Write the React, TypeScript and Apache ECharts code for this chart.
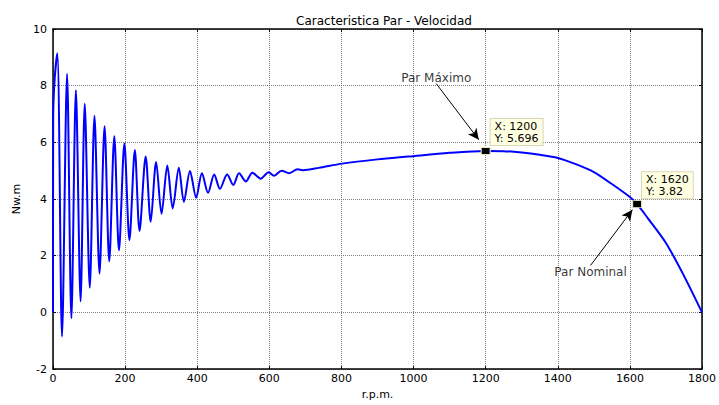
import React, { useEffect, useRef } from "react";
import * as echarts from "echarts";

const rpm = [0, 0.5, 4.6, 12, 25, 39, 51, 63.5, 76.5, 88, 102, 115, 129, 143, 156, 170, 183, 198, 212, 227, 240, 257, 271, 286, 301, 317, 332, 349, 363, 380, 397, 413, 430, 447, 463, 483, 500, 516, 535, 553, 576, 598, 613, 634, 655, 678, 693, 737, 802, 900, 986, 1100, 1200, 1250, 1300, 1350, 1400, 1450, 1500, 1550, 1600, 1620, 1650, 1700, 1750, 1800];
const torque = [0, 6.9, 8.24, 9.14, -0.85, 8.42, -0.21, 7.84, 0.39, 7.36, 0.87, 6.94, 1.37, 6.57, 1.8, 6.22, 2.19, 5.96, 2.55, 5.73, 2.87, 5.5, 3.2, 5.31, 3.48, 5.18, 3.67, 5.1, 3.9, 4.99, 4.05, 4.91, 4.22, 4.87, 4.36, 4.87, 4.5, 4.91, 4.62, 4.93, 4.72, 4.95, 4.82, 5.0, 4.91, 5.05, 5.02, 5.1, 5.25, 5.4, 5.5, 5.63, 5.696, 5.69, 5.64, 5.56, 5.45, 5.23, 4.95, 4.53, 4.07, 3.82, 3.32, 2.45, 1.29, 0];

const markerX = [1200, 1620];
const markerY = [5.696, 3.82];

const noteLabels = ["Par Máximo", "Par Nominal"];
const noteX = [1063, 1491];
const noteY = [8.28, 1.42];
const arrowFromX = [1063, 1491];
const arrowFromY = [8.07, 1.66];
const arrowToX = [1181, 1607];
const arrowToY = [6.09, 3.62];

const FONT = "DejaVu Sans";

export default function App() {
  const ref = useRef<HTMLDivElement>(null);
  useEffect(() => {
    document.body.style.margin = "0";
    document.body.style.overflow = "hidden";
    if (!ref.current) return;
    const chart = echarts.init(ref.current, undefined, { renderer: "svg" });
    const axisCommon = {
      type: "value" as const,
      axisLine: { show: true, onZero: false, lineStyle: { color: "#000", width: 1.5 } },
      axisTick: { show: true, inside: true, length: 3, lineStyle: { color: "#000" } },
    };
    const labelStyle = {
      color: "#000",
      fontFamily: FONT,
      fontSize: 11,
      formatter: (v: number) => String(v),
    };
    chart.setOption({
      animation: false,
      backgroundColor: "#fff",
      title: {
        text: "Caracteristica Par - Velocidad",
        left: 379,
        top: 10,
        textAlign: "center",
        textStyle: { fontFamily: FONT, fontSize: 12, fontWeight: "normal", color: "#000" },
      },
      grid: { left: 53, right: 14, top: 29, bottom: 26, show: false },
      xAxis: [
        {
          ...axisCommon,
          position: "bottom",
          min: 0,
          max: 1800,
          interval: 200,
          name: "r.p.m.",
          nameLocation: "middle",
          nameGap: 16,
          nameTextStyle: { fontFamily: FONT, fontSize: 11, color: "#000" },
          axisLabel: { ...labelStyle, margin: 4 },
          splitLine: { show: true, lineStyle: { color: "#808080", type: [1, 1], width: 1 } },
        },
        {
          ...axisCommon,
          position: "top",
          min: 0,
          max: 1800,
          interval: 200,
          axisLabel: { show: false },
          splitLine: { show: false },
        },
      ],
      yAxis: [
        {
          ...axisCommon,
          position: "left",
          min: -2,
          max: 10,
          interval: 2,
          name: "Nw.m",
          nameLocation: "middle",
          nameGap: 27,
          nameTextStyle: { fontFamily: FONT, fontSize: 11, color: "#000" },
          axisLabel: { ...labelStyle, margin: 6 },
          splitLine: { show: true, lineStyle: { color: "#808080", type: [1, 1], width: 1 } },
        },
        {
          ...axisCommon,
          position: "right",
          min: -2,
          max: 10,
          interval: 2,
          axisLabel: { show: false },
          splitLine: { show: false },
        },
      ],
      series: [
        {
          type: "line",
          data: rpm.map((x, i) => [x, torque[i]]),
          showSymbol: false,
          smooth: 0.3,
          lineStyle: { color: "#0000ff", width: 2 },
          itemStyle: { color: "#0000ff" },
          emphasis: { disabled: true },
          silent: true,
          markLine: {
            silent: true,
            symbol: ["none", "arrow"],
            symbolSize: [8, 11],
            label: { show: false },
            lineStyle: { color: "#000", width: 1, type: "solid" },
            emphasis: { disabled: true },
            data: arrowFromX.map((x, i) => [
              { coord: [x, arrowFromY[i]] },
              { coord: [arrowToX[i], arrowToY[i]] },
            ]),
          },
          markPoint: {
            silent: true,
            symbol: "rect",
            symbolSize: [9, 7],
            itemStyle: { color: "#000", borderColor: "#e8e6c8", borderWidth: 1 },
            label: {
              show: true,
              position: [10, -28],
              align: "left",
              verticalAlign: "top",
              fontFamily: FONT,
              fontSize: 11,
              lineHeight: 12,
              color: "#000",
              backgroundColor: "#ffffe1",
              borderColor: "#d8d6b8",
              borderWidth: 1,
              padding: [1, 4, 1, 4],
              formatter: (p: any) => `X: ${p.data.coord[0]}\nY: ${p.data.coord[1]}`,
            },
            data: markerX.map((x, i) => ({ coord: [x, markerY[i]] })),
          },
        },
        {
          type: "scatter",
          data: noteX.map((x, i) => [x, noteY[i], noteLabels[i]]),
          symbolSize: 1,
          itemStyle: { color: "rgba(0,0,0,0)" },
          silent: true,
          label: {
            show: true,
            position: "inside",
            fontFamily: FONT,
            fontSize: 12,
            color: "#000",
            formatter: (p: any) => p.data[2],
          },
        },
      ],
    });
    return () => chart.dispose();
  }, []);
  return <div ref={ref} style={{ width: 719, height: 405, background: "#fff" }} />;
}
